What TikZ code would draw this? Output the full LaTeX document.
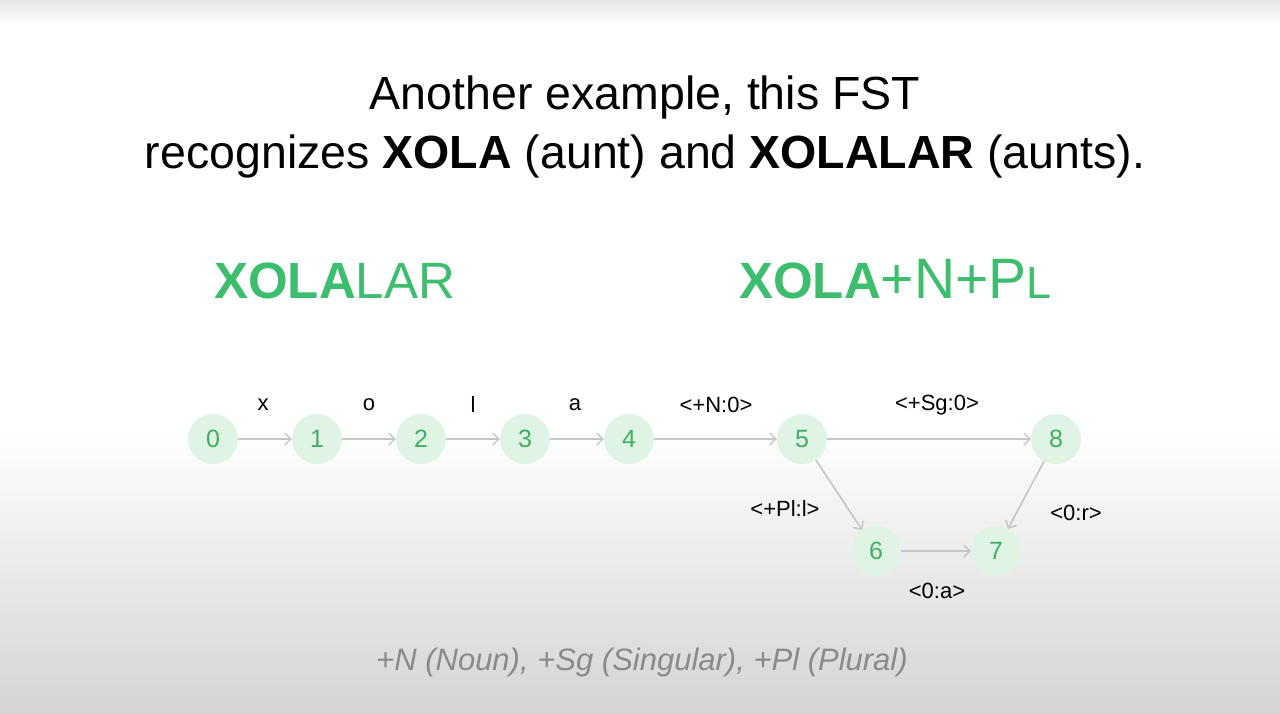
\documentclass[tikz,border=0pt]{standalone}
\usepackage{fontspec}
\setmainfont{Liberation Sans}
\usetikzlibrary{arrows.meta}
\definecolor{fstgreen}{HTML}{3DBE6E}
\definecolor{digitgreen}{HTML}{42AE62}
\definecolor{statefill}{HTML}{DFF4E5}
\definecolor{edgegrey}{HTML}{C6C6C6}
\definecolor{notegrey}{HTML}{8A8A8A}
\definecolor{bottomgrey}{HTML}{D4D4D4}
\tikzset{
  state/.style={circle, fill=statefill, minimum size=50pt, inner sep=0pt,
    text=digitgreen, font=\fontsize{25}{25}\selectfont},
  trans/.style={draw=edgegrey, line width=1.6pt,
    -{Straight Barb[length=6pt,width=12pt,line width=1.4pt]}},
  lab/.style={font=\fontsize{22}{22}\selectfont, text=black, inner sep=0pt},
  word/.style={text=fstgreen, font=\fontsize{51}{51}\selectfont, inner sep=0pt, anchor=base west},
}
\begin{document}
\begin{tikzpicture}[x=1pt,y=-1pt]
% background
\useasboundingbox (0,0) rectangle (1280,713);
\fill[white] (0,0) rectangle (1280,713);
\shade[top color=white, bottom color=bottomgrey] (0,430) rectangle (1280,713);
\shade[top color=black!10, bottom color=white] (0,0) rectangle (1280,24);

% heading
\node[font=\fontsize{46.5}{46.5}\selectfont, anchor=base] (title1) at (645,109) {Another example, this FST};
\node[font=\fontsize{46.5}{46.5}\selectfont, anchor=base] (title2) at (645,168)
  {recognizes \textbf{XOLA} (aunt) and \textbf{XOLALAR} (aunts).};

% surface and lexical forms
\node[word] (surface) at (214,298) {\textbf{XOLA}LAR};
\node[word] (lexical) at (739,298)
  {\textbf{XOLA}{\fontsize{57}{57}\selectfont +N+P}{\fontsize{45}{45}\selectfont L}};

% states
\node[state] (s0) at (213,439) {0};
\node[state] (s1) at (317,439) {1};
\node[state] (s2) at (421,439) {2};
\node[state] (s3) at (525,439) {3};
\node[state] (s4) at (629,439) {4};
\node[state] (s5) at (802,439) {5};
\node[state] (s8) at (1056,439) {8};
\node[state] (s6) at (876,551) {6};
\node[state] (s7) at (996,551) {7};

% transitions
\draw[trans] (s0) -- (s1);
\draw[trans] (s1) -- (s2);
\draw[trans] (s2) -- (s3);
\draw[trans] (s3) -- (s4);
\draw[trans] (s4) -- (s5);
\draw[trans] (s5) -- (s8);
\draw[trans] (s5) -- (s6);
\draw[trans] (s8) -- (s7);
\draw[trans] (s6) -- (s7);

% transition labels
\node[lab] (lx) at (263,405) {x};
\node[lab] (lo) at (369,405) {o};
\node[lab] (ll) at (473,405) {l};
\node[lab] (la) at (575,405) {a};
\node[lab] (lN) at (716,405) {<+N:0>};
\node[lab] (lSg) at (937,405) {<+Sg:0>};
\node[lab] (lPl) at (785,509) {<+Pl:l>};
\node[lab] (lr) at (1076,513) {<0:r>};
\node[lab] (lA) at (937,591) {<0:a>};

% legend
\node[font=\itshape\fontsize{31}{31}\selectfont, text=notegrey] (legend) at (642,662)
  {+N (Noun), +Sg (Singular), +Pl (Plural)};
\end{tikzpicture}
\end{document}
